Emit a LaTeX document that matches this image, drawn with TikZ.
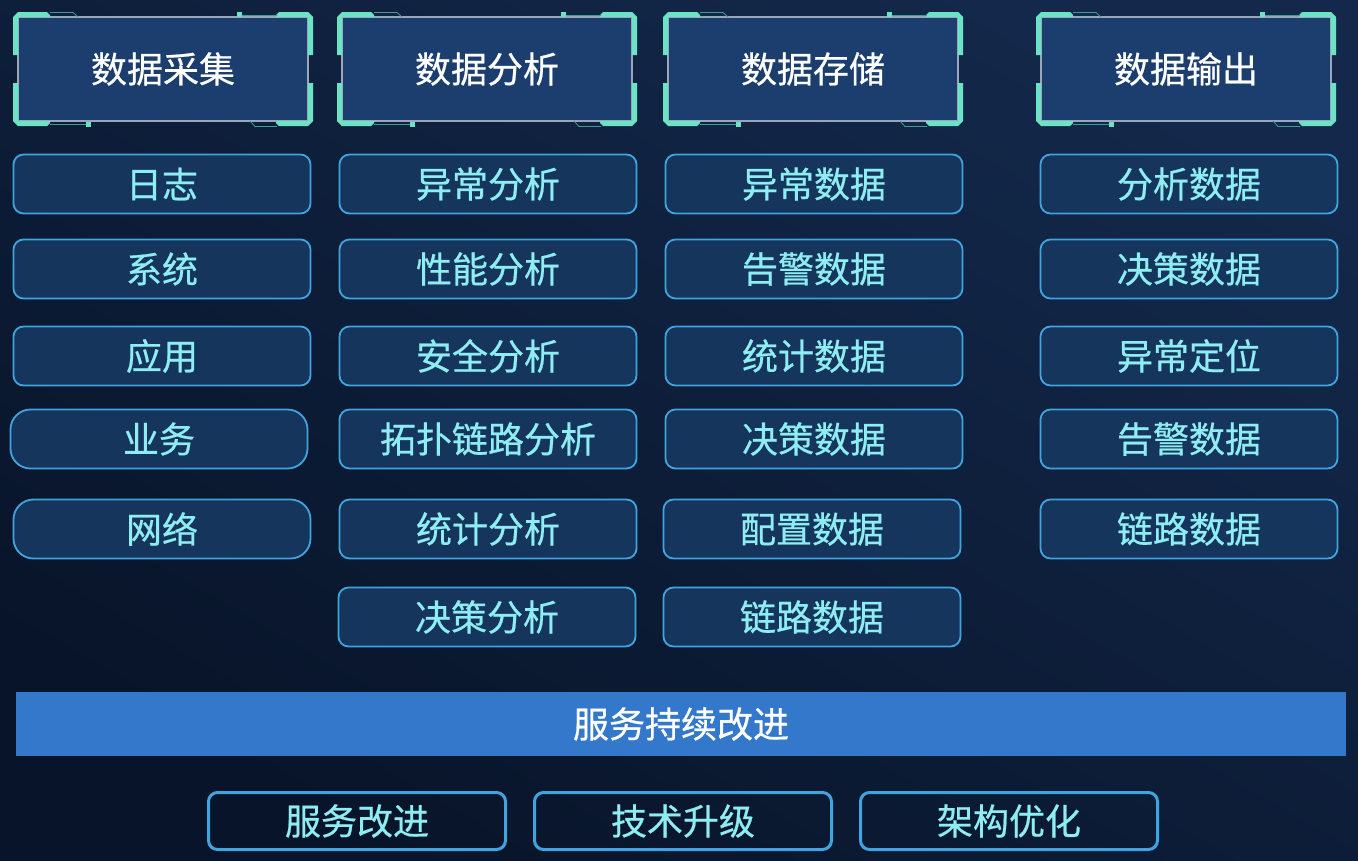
\documentclass[tikz,border=0pt]{standalone}
\usepackage{fontspec}
\setmainfont{Noto Sans CJK SC}[FakeBold=0.6]
\definecolor{bgdark}{HTML}{081429}
\definecolor{bglight}{HTML}{13284A}
\definecolor{headfill}{HTML}{1C3E6E}
\definecolor{headline}{HTML}{9AA6BA}
\definecolor{teal}{HTML}{6DE3C6}
\definecolor{tealdim}{HTML}{3A9E92}
\definecolor{itemfill}{HTML}{15355C}
\definecolor{itemline}{HTML}{3FA4DF}
\definecolor{itemtext}{HTML}{8EEDF2}
\definecolor{barfill}{HTML}{3478CC}

\begin{document}
\begin{tikzpicture}[x=1pt, y=-1pt]
	\tikzstyle{head} = [draw=headline, line width=1.5pt, fill=headfill, text=white, minimum width=290pt, minimum height=104pt, inner sep=0pt, font=\fontsize{36}{40}\selectfont]
	\tikzstyle{item} = [draw=itemline, line width=1.8pt, fill=itemfill, text=itemtext, rounded corners=10pt, minimum width=297pt, minimum height=59pt, inner sep=0pt, font=\fontsize{36}{40}\selectfont]
	\tikzstyle{round item} = [item, rounded corners=20pt]
	\tikzstyle{bar} = [fill=barfill, text=white, minimum width=1330pt, minimum height=64pt, inner sep=0pt, font=\fontsize{36}{40}\selectfont]
	\tikzstyle{action} = [draw=itemline, line width=3pt, text=itemtext, rounded corners=9pt, minimum width=297pt, minimum height=57pt, inner sep=0pt, font=\fontsize{36}{40}\selectfont]
	% background
	\shade[bottom color=bgdark, top color=bglight, shading angle=-30] (0,0) rectangle (1358,860);
	\useasboundingbox (0,0) rectangle (1358,860);
	% headers
	\node[head] (hCollect) at (163, 69) {数据采集};
	\node[head] (hAnalyse) at (487, 69) {数据分析};
	\node[head] (hStore) at (813, 69) {数据存储};
	\node[head] (hOutput) at (1186, 69) {数据输出};
	\foreach \n in {hCollect, hAnalyse, hStore, hOutput} {
		\foreach \sx/\sy in {1/1, -1/1, 1/-1, -1/-1}
			\fill[teal, shift={(\n.center)}, xscale=\sx, yscale=\sy] (-150,-14) -- (-150,-52) -- (-145,-57) -- (-116,-57) -- (-113,-54) -- (-113,-52) -- (-145,-52) -- (-145,-14) -- cycle;
		\begin{scope}[shift={(\n.center)}]
			\draw[tealdim, line width=0.8pt] (-113,-56.5) -- (-90,-56.5) -- (-85,-52);
			\draw[tealdim, line width=0.8pt] (79,-54) -- (114,-54);
			\fill[teal] (74,-57) rectangle (79,-52);
			\draw[tealdim, line width=0.8pt] (-113,55) -- (-77,55);
			\fill[teal] (-77,53) rectangle (-72,58);
			\draw[tealdim, line width=0.8pt] (87,52) -- (92,57.5) -- (114,57.5);
		\end{scope}
	}
	% data collection
	\node[item] (cLog) at (162, 184) {日志};
	\node[item] (cSystem) at (162, 269) {系统};
	\node[item] (cApp) at (162, 356) {应用};
	\node[round item] (cBusiness) at (159, 439) {业务};
	\node[round item] (cNetwork) at (162, 529) {网络};
	% data analysis
	\node[item] (aAnomaly) at (488, 184) {异常分析};
	\node[item] (aPerf) at (488, 269) {性能分析};
	\node[item] (aSecurity) at (488, 356) {安全分析};
	\node[item] (aTopo) at (488, 439) {拓扑链路分析};
	\node[item] (aStats) at (488, 529) {统计分析};
	\node[item] (aDecision) at (487, 617) {决策分析};
	% data storage
	\node[item] (sAnomaly) at (814, 184) {异常数据};
	\node[item] (sAlarm) at (814, 269) {告警数据};
	\node[item] (sStats) at (814, 356) {统计数据};
	\node[item] (sDecision) at (814, 439) {决策数据};
	\node[item] (sConfig) at (812, 529) {配置数据};
	\node[item] (sLink) at (812, 617) {链路数据};
	% data output
	\node[item] (oAnalysis) at (1189, 184) {分析数据};
	\node[item] (oDecision) at (1189, 269) {决策数据};
	\node[item] (oLocate) at (1189, 356) {异常定位};
	\node[item] (oAlarm) at (1189, 439) {告警数据};
	\node[item] (oLink) at (1189, 529) {链路数据};
	% improvement
	\node[bar] (improve) at (681, 724) {服务持续改进};
	\node[action] (service) at (357, 821) {服务改进};
	\node[action] (tech) at (683, 821) {技术升级};
	\node[action] (arch) at (1009, 821) {架构优化};
\end{tikzpicture}
\end{document}
